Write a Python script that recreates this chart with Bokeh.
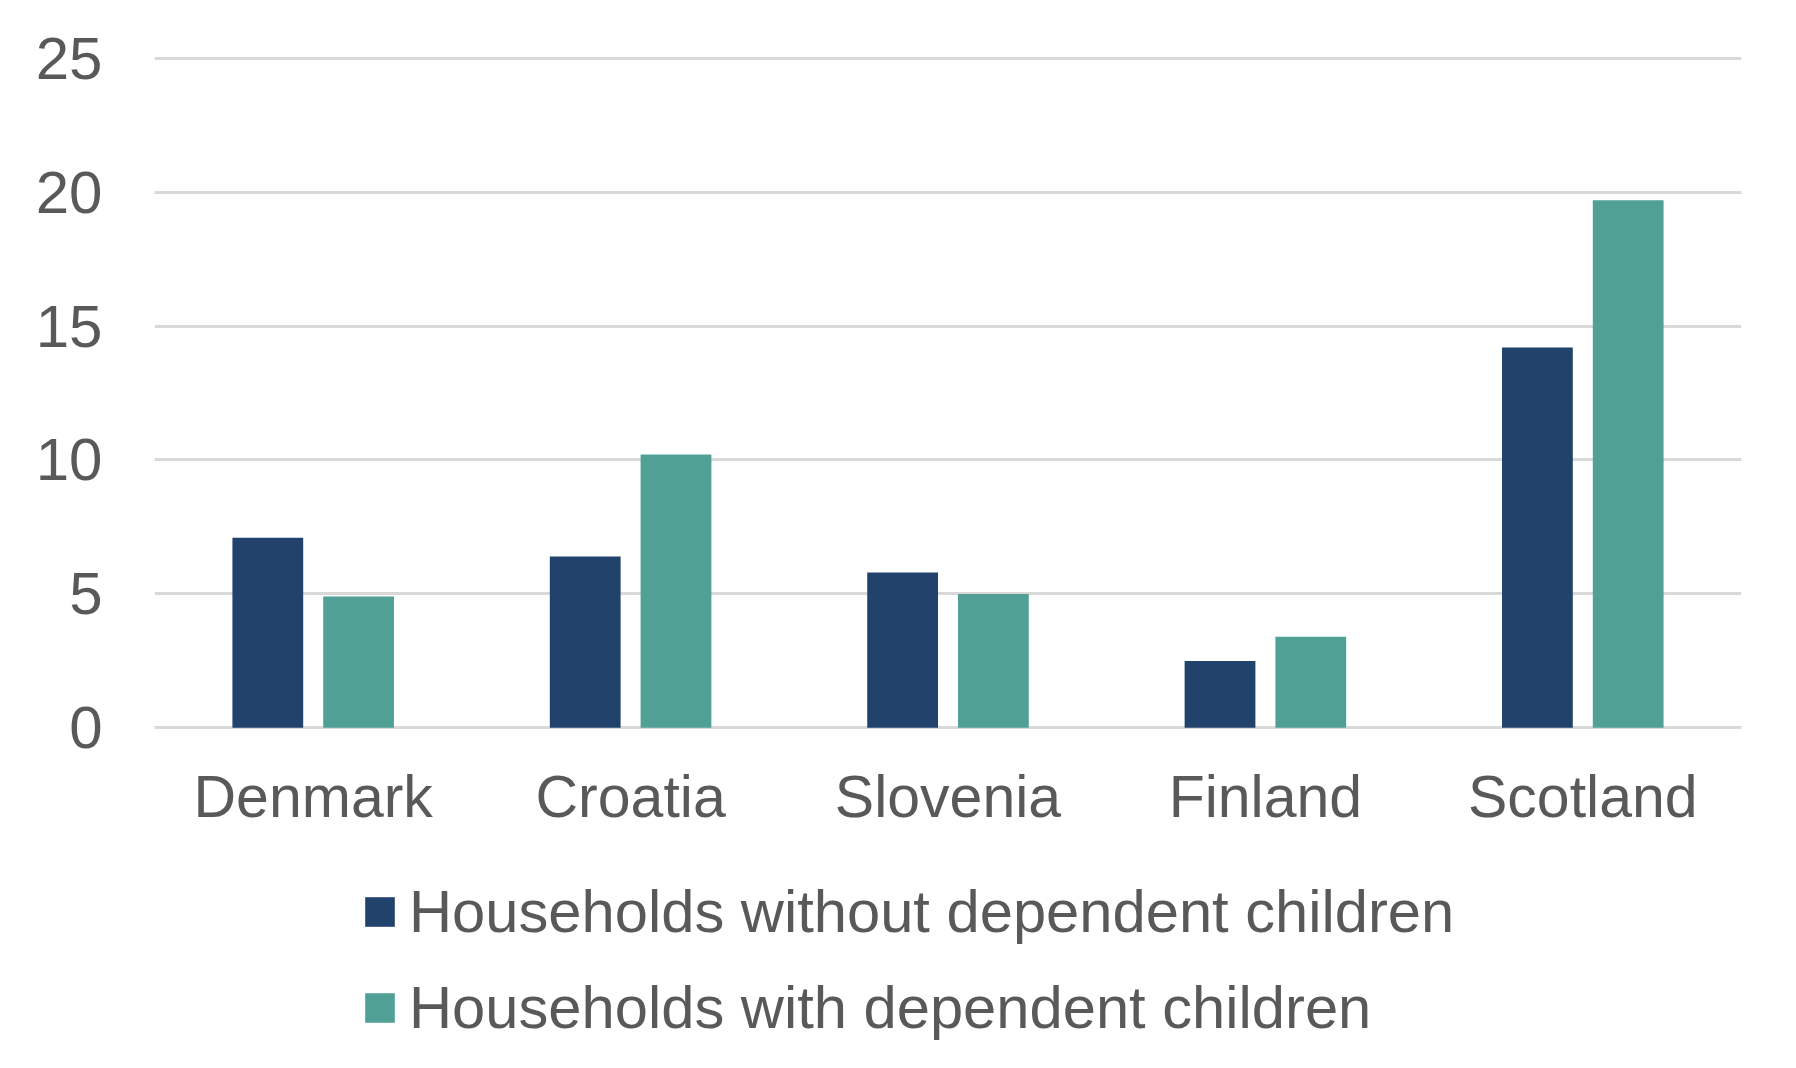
from bokeh.plotting import figure
from bokeh.models import ColumnDataSource, Legend, LegendItem, FactorRange
from bokeh.transform import dodge
from bokeh.embed import file_html
from bokeh.resources import INLINE

# Data
countries = ["Denmark", "Croatia", "Slovenia", "Finland", "Scotland"]
without_children = [7.1, 6.4, 5.8, 2.5, 14.2]
with_children = [4.9, 10.2, 5.0, 3.4, 19.7]
y_ticks = [0, 5, 10, 15, 20, 25]
series_names = ["Households without dependent children", "Households with dependent children"]

DARK = "#21426B"
TEAL = "#50A096"
TEXT = "#595959"
GRID = "#D9D9D9"
FONT = "Liberation Sans"

source = ColumnDataSource(dict(country=countries, without=without_children, withc=with_children))

# frame runs to the bottom of the figure so the legend can sit inside it;
# the category axis is pinned just under zero
p = figure(
    x_range=FactorRange(*countries),
    y_range=(-12.12, 25.1),
    width=1780,
    height=1052,
    min_border_left=154,
    min_border_right=39,
    min_border_top=55,
    min_border_bottom=0,
    toolbar_location=None,
    tools="",
    output_backend="svg",
)

r1 = p.vbar(x=dodge("country", -0.143, range=p.x_range), top="without", width=0.223,
            source=source, fill_color=DARK, line_color=None)
r2 = p.vbar(x=dodge("country", 0.143, range=p.x_range), top="withc", width=0.223,
            source=source, fill_color=TEAL, line_color=None)

# axes
p.yaxis.ticker = y_ticks
p.yaxis.axis_line_color = None
p.yaxis.major_tick_line_color = None
p.yaxis.minor_tick_line_color = None
p.yaxis.major_label_standoff = 46
p.yaxis.major_label_text_font = FONT
p.yaxis.major_label_text_font_size = "60px"
p.yaxis.major_label_text_color = TEXT

p.xaxis.fixed_location = -0.1
p.xaxis.axis_line_color = None
p.xaxis.major_tick_line_color = None
p.xaxis.major_label_standoff = 27
p.xaxis.major_label_text_font = FONT
p.xaxis.major_label_text_font_size = "59px"
p.xaxis.major_label_text_color = TEXT

# grid
p.xgrid.grid_line_color = None
p.ygrid.grid_line_color = GRID
p.ygrid.grid_line_width = 3
p.outline_line_color = None

# legend glyph box is inset by 10% on each side, so 37.5 gives a 30px square
legend = Legend(
    items=[LegendItem(label=series_names[0], renderers=[r1]),
           LegendItem(label=series_names[1], renderers=[r2])],
    location=(207, 10),
    orientation="vertical",
    glyph_width=37,
    glyph_height=37,
    label_height=70,
    label_standoff=11,
    spacing=26,
    padding=0,
    margin=0,
    border_line_color=None,
    background_fill_alpha=0,
    label_text_font=FONT,
    label_text_font_size="59.7px",
    label_text_color=TEXT,
)
p.add_layout(legend, "center")

open("out.html", "w").write(file_html(p, INLINE))
